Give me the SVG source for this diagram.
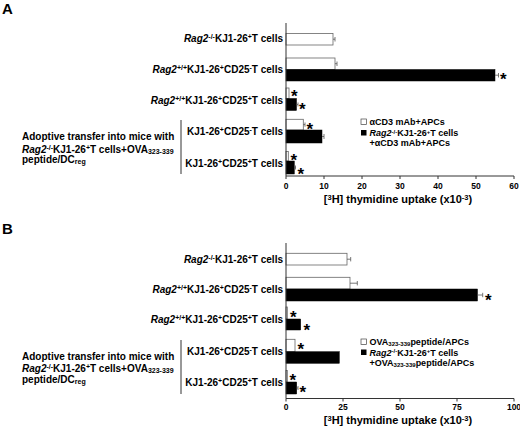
<svg xmlns="http://www.w3.org/2000/svg" width="520" height="426" viewBox="0 0 520 426">
<style>
text{font-family:"Liberation Sans",Arial,sans-serif;font-weight:bold;fill:#000}
.lab{font-size:10px;text-anchor:end}
.grp{font-size:10px}
.tick{font-size:8.5px;text-anchor:middle}
.ttl{font-size:11px;text-anchor:middle}
.leg{font-size:9px}
.pl{font-size:15px}
.star{font-size:17px}
.w{fill:#fff;stroke:#666;stroke-width:0.8}
.k{fill:#000;stroke:#000;stroke-width:0.5}
.ax{stroke:#333;stroke-width:1;fill:none}
.err{stroke:#555;stroke-width:0.8;fill:none}
</style>

<!-- Panel A -->
<g id="panelA">
<text class="pl" x="2" y="14">A</text>
<g id="A-labels">
<text class="lab" x="283" y="42"><tspan font-style="italic">Rag2</tspan><tspan font-size="7" dy="-3">-/-</tspan><tspan dy="3">KJ1-26</tspan><tspan font-size="7" dy="-3">+</tspan><tspan dy="3">T cells</tspan></text>
<text class="lab" x="283" y="73"><tspan font-style="italic">Rag2</tspan><tspan font-size="7" dy="-3">+/+</tspan><tspan dy="3">KJ1-26</tspan><tspan font-size="7" dy="-3">+</tspan><tspan dy="3">CD25</tspan><tspan font-size="7" dy="-3">-</tspan><tspan dy="3">T cells</tspan></text>
<text class="lab" x="283" y="104"><tspan font-style="italic">Rag2</tspan><tspan font-size="7" dy="-3">+/+</tspan><tspan dy="3">KJ1-26</tspan><tspan font-size="7" dy="-3">+</tspan><tspan dy="3">CD25</tspan><tspan font-size="7" dy="-3">+</tspan><tspan dy="3">T cells</tspan></text>
<text class="lab" x="283" y="135">KJ1-26<tspan font-size="7" dy="-3">+</tspan><tspan dy="3">CD25</tspan><tspan font-size="7" dy="-3">-</tspan><tspan dy="3">T cells</tspan></text>
<text class="lab" x="283" y="167">KJ1-26<tspan font-size="7" dy="-3">+</tspan><tspan dy="3">CD25</tspan><tspan font-size="7" dy="-3">+</tspan><tspan dy="3">T cells</tspan></text>
<line class="ax" x1="181" y1="120" x2="181" y2="174"/>
<text class="grp" x="22" y="140">Adoptive transfer into mice with</text>
<text class="grp" x="22" y="152.5"><tspan font-style="italic">Rag2</tspan><tspan font-size="7" dy="-3">-/-</tspan><tspan dy="3">KJ1-26</tspan><tspan font-size="7" dy="-3">+</tspan><tspan dy="3">T cells+OVA</tspan><tspan font-size="7" dy="1">323-339</tspan></text>
<text class="grp" x="22" y="163">peptide/DC<tspan font-size="7" dy="1">reg</tspan></text>
</g>
<g id="A-bars">
<rect class="w" x="286" y="33.5" width="47" height="11.5"/>
<path class="err" d="M333 39.2H335M335 37V41.5"/>
<rect class="w" x="286" y="58" width="49" height="11.5"/>
<path class="err" d="M335 63.7H337M337 61.5V66"/>
<rect class="k" x="286" y="69.5" width="209" height="11.5"/>
<path class="err" d="M495 75.2H498.5M498.5 73V77.5"/>
<text class="star" x="500" y="85.2">*</text>
<rect class="w" x="286" y="88" width="3" height="10.5"/>
<text class="star" x="291" y="102.2">*</text>
<rect class="k" x="286" y="98.5" width="10.5" height="12"/>
<path class="err" d="M296.5 104.5H298M298 102.5V106.5"/>
<text class="star" x="299" y="115.2">*</text>
<rect class="w" x="286" y="119.3" width="17.3" height="10.7"/>
<path class="err" d="M303.3 124.6H305M305 122.5V126.7"/>
<text class="star" x="306.5" y="135.2">*</text>
<rect class="k" x="286" y="130" width="36" height="13"/>
<path class="err" d="M322 136.5H324M324 134V139"/>
<rect class="w" x="286" y="151.5" width="2.3" height="9.5"/>
<text class="star" x="290.5" y="165.7">*</text>
<rect class="k" x="286" y="161" width="8.3" height="13"/>
<path class="err" d="M294.3 167.5H295.5M295.5 165.5V169.5"/>
<text class="star" x="297.5" y="179.7">*</text>
</g>
<g id="A-axes">
<path class="ax" d="M286 23V176H514"/>
<path class="ax" d="M286 176v3M324 176v3M362 176v3M400 176v3M438 176v3M476 176v3M514 176v3"/>
<text class="tick" x="286" y="189">0</text>
<text class="tick" x="324" y="189">10</text>
<text class="tick" x="362" y="189">20</text>
<text class="tick" x="400" y="189">30</text>
<text class="tick" x="438" y="189">40</text>
<text class="tick" x="476" y="189">50</text>
<text class="tick" x="514" y="189">60</text>
<text class="ttl" x="398" y="203">[<tspan font-size="7.5" dy="-3.5">3</tspan><tspan dy="3.5">H] thymidine uptake (x10</tspan><tspan font-size="7.5" dy="-3.5">-3</tspan><tspan dy="3.5">)</tspan></text>
</g>
<g id="A-legend">
<rect x="361" y="119" width="5.5" height="5.5" fill="#fff" stroke="#444" stroke-width="0.7"/>
<text class="leg" x="369.5" y="125">αCD3 mAb+APCs</text>
<rect x="361" y="130" width="5.5" height="5.5" fill="#000"/>
<text class="leg" x="369.5" y="136"><tspan font-style="italic">Rag2</tspan><tspan font-size="6" dy="-2.5">-/-</tspan><tspan dy="2.5">KJ1-26</tspan><tspan font-size="6" dy="-2.5">+</tspan><tspan dy="2.5">T cells</tspan></text>
<text class="leg" x="369.5" y="146">+αCD3 mAb+APCs</text>
</g>
</g>

<!-- Panel B -->
<g id="panelB">
<text class="pl" x="2" y="234">B</text>
<g id="B-labels">
<text class="lab" x="283" y="262.5"><tspan font-style="italic">Rag2</tspan><tspan font-size="7" dy="-3">-/-</tspan><tspan dy="3">KJ1-26</tspan><tspan font-size="7" dy="-3">+</tspan><tspan dy="3">T cells</tspan></text>
<text class="lab" x="283" y="292.5"><tspan font-style="italic">Rag2</tspan><tspan font-size="7" dy="-3">+/+</tspan><tspan dy="3">KJ1-26</tspan><tspan font-size="7" dy="-3">+</tspan><tspan dy="3">CD25</tspan><tspan font-size="7" dy="-3">-</tspan><tspan dy="3">T cells</tspan></text>
<text class="lab" x="283" y="322.5"><tspan font-style="italic">Rag2</tspan><tspan font-size="7" dy="-3">+/+</tspan><tspan dy="3">KJ1-26</tspan><tspan font-size="7" dy="-3">+</tspan><tspan dy="3">CD25</tspan><tspan font-size="7" dy="-3">+</tspan><tspan dy="3">T cells</tspan></text>
<text class="lab" x="283" y="355">KJ1-26<tspan font-size="7" dy="-3">+</tspan><tspan dy="3">CD25</tspan><tspan font-size="7" dy="-3">-</tspan><tspan dy="3">T cells</tspan></text>
<text class="lab" x="283" y="386">KJ1-26<tspan font-size="7" dy="-3">+</tspan><tspan dy="3">CD25</tspan><tspan font-size="7" dy="-3">+</tspan><tspan dy="3">T cells</tspan></text>
<line class="ax" x1="181" y1="340" x2="181" y2="394"/>
<text class="grp" x="22" y="359.5">Adoptive transfer into mice with</text>
<text class="grp" x="22" y="372"><tspan font-style="italic">Rag2</tspan><tspan font-size="7" dy="-3">-/-</tspan><tspan dy="3">KJ1-26</tspan><tspan font-size="7" dy="-3">+</tspan><tspan dy="3">T cells+OVA</tspan><tspan font-size="7" dy="1">323-339</tspan></text>
<text class="grp" x="22" y="382.5">peptide/DC<tspan font-size="7" dy="1">reg</tspan></text>
</g>
<g id="B-bars">
<rect class="w" x="286" y="253.3" width="61" height="11.7"/>
<path class="err" d="M347 259.2H350.7M350.7 257V261.4"/>
<rect class="w" x="286" y="277.3" width="64" height="11.7"/>
<path class="err" d="M350 283.2H357.3M357.3 281V285.4"/>
<rect class="k" x="286" y="289" width="191.5" height="12"/>
<path class="err" d="M477.5 295H482.7M482.7 292.8V297.2"/>
<text class="star" x="485" y="305.7">*</text>
<rect class="w" x="286" y="307" width="1.3" height="12"/>
<text class="star" x="290" y="322.7">*</text>
<rect class="k" x="286" y="319" width="14.7" height="11"/>
<text class="star" x="303.5" y="335.7">*</text>
<rect class="w" x="286" y="339.3" width="9" height="12.4"/>
<text class="star" x="297.5" y="354.7">*</text>
<rect class="k" x="286" y="351.7" width="53.3" height="11.6"/>
<rect class="w" x="286" y="370.5" width="1.3" height="11.5"/>
<text class="star" x="289.5" y="385.7">*</text>
<rect class="k" x="286" y="382" width="10.7" height="12"/>
<path class="err" d="M296.7 388H298M298 386V390"/>
<text class="star" x="299.5" y="398.2">*</text>
</g>
<g id="B-axes">
<path class="ax" d="M286 243V398.5H514"/>
<path class="ax" d="M286 398.5v3M343 398.5v3M400 398.5v3M457 398.5v3M514 398.5v3"/>
<text class="tick" x="286" y="410">0</text>
<text class="tick" x="343" y="410">25</text>
<text class="tick" x="400" y="410">50</text>
<text class="tick" x="457" y="410">75</text>
<text class="tick" x="514" y="410">100</text>
<text class="ttl" x="398" y="424">[<tspan font-size="7.5" dy="-3.5">3</tspan><tspan dy="3.5">H] thymidine uptake (x10</tspan><tspan font-size="7.5" dy="-3.5">-3</tspan><tspan dy="3.5">)</tspan></text>
</g>
<g id="B-legend">
<rect x="361" y="339" width="5.5" height="5.5" fill="#fff" stroke="#444" stroke-width="0.7"/>
<text class="leg" x="369.5" y="345">OVA<tspan font-size="6" dy="1">323-339</tspan><tspan dy="-1">peptide/APCs</tspan></text>
<rect x="361" y="349.5" width="5.5" height="5.5" fill="#000"/>
<text class="leg" x="369.5" y="355.5"><tspan font-style="italic">Rag2</tspan><tspan font-size="6" dy="-2.5">-/-</tspan><tspan dy="2.5">KJ1-26</tspan><tspan font-size="6" dy="-2.5">+</tspan><tspan dy="2.5">T cells</tspan></text>
<text class="leg" x="369.5" y="365.5">+OVA<tspan font-size="6" dy="1">323-339</tspan><tspan dy="-1">peptide/APCs</tspan></text>
</g>
</g>
</svg>
